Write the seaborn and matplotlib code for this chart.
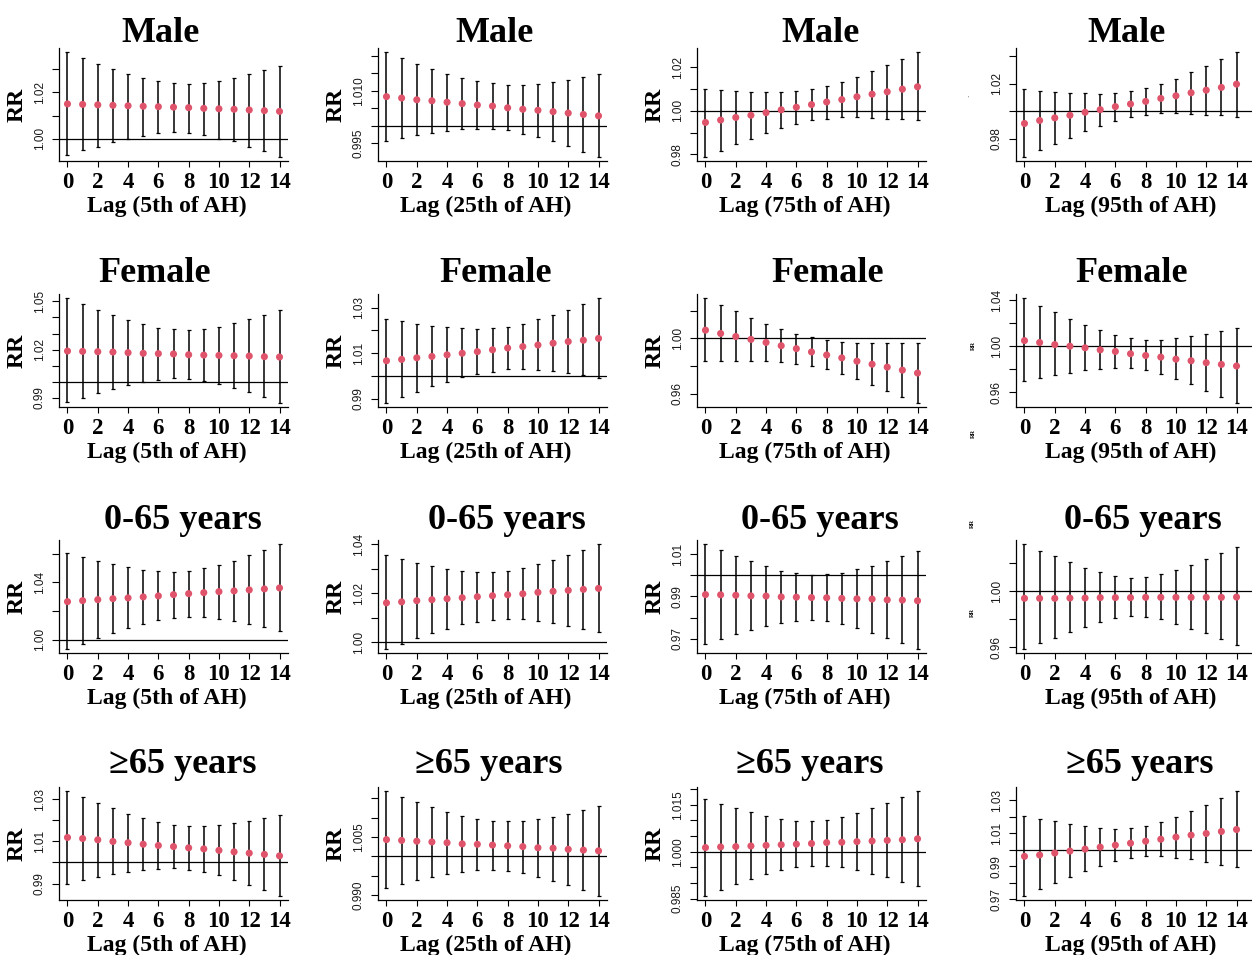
import matplotlib
matplotlib.use('Agg')
import numpy as np
import pandas as pd
import matplotlib.pyplot as plt
import seaborn as sns

# ============================================
# Data
# ============================================
LAGS = list(range(15))
ROW_TITLES = ['Male', 'Female', '0-65 years', '\u226565 years']
COL_XLABELS = ['Lag (5th of AH)', 'Lag (25th of AH)', 'Lag (75th of AH)', 'Lag (95th of AH)']

# Male
MALE_P5_RR = [1.0150, 1.0148, 1.0146, 1.0144, 1.0142, 1.0140, 1.0138, 1.0136, 1.0134, 1.0131, 1.0129, 1.0127, 1.0124, 1.0121, 1.0118]
MALE_P5_HI = [1.0372, 1.0348, 1.0322, 1.0298, 1.0279, 1.0261, 1.0247, 1.0240, 1.0237, 1.0240, 1.0250, 1.0261, 1.0278, 1.0296, 1.0313]
MALE_P5_LO = [0.9929, 0.9952, 0.9967, 0.9987, 1.0000, 1.0011, 1.0024, 1.0030, 1.0026, 1.0016, 1.0001, 0.9989, 0.9967, 0.9946, 0.9923]
MALE_P5_YTICKS = [1.00, 1.01, 1.02, 1.03]
MALE_P5_YLABELS = ['1.00', '', '1.02', '']

MALE_P25_RR = [1.0083, 1.0079, 1.0074, 1.0071, 1.0067, 1.0063, 1.0059, 1.0056, 1.0051, 1.0047, 1.0044, 1.0040, 1.0036, 1.0032, 1.0028]
MALE_P25_HI = [1.0210, 1.0194, 1.0177, 1.0162, 1.0149, 1.0136, 1.0127, 1.0121, 1.0117, 1.0117, 1.0120, 1.0125, 1.0131, 1.0138, 1.0147]
MALE_P25_LO = [0.9956, 0.9964, 0.9973, 0.9980, 0.9986, 0.9990, 0.9991, 0.9991, 0.9987, 0.9977, 0.9967, 0.9956, 0.9941, 0.9926, 0.9911]
MALE_P25_YTICKS = [0.995, 1.000, 1.005, 1.010, 1.015, 1.020]
MALE_P25_YLABELS = ['0.995', '', '', '1.010', '', '']

MALE_P75_RR = [0.9947, 0.9958, 0.9970, 0.9980, 0.9992, 1.0005, 1.0017, 1.0029, 1.0041, 1.0052, 1.0065, 1.0077, 1.0088, 1.0100, 1.0111]
MALE_P75_HI = [1.0102, 1.0097, 1.0092, 1.0088, 1.0086, 1.0086, 1.0092, 1.0102, 1.0115, 1.0133, 1.0156, 1.0182, 1.0211, 1.0239, 1.0270]
MALE_P75_LO = [0.9789, 0.9818, 0.9846, 0.9873, 0.9899, 0.9921, 0.9941, 0.9956, 0.9965, 0.9970, 0.9970, 0.9968, 0.9965, 0.9961, 0.9959]
MALE_P75_YTICKS = [0.98, 0.99, 1.00, 1.01, 1.02]
MALE_P75_YLABELS = ['0.98', '', '1.00', '', '1.02']

MALE_P95_RR = [0.9911, 0.9933, 0.9952, 0.9971, 0.9993, 1.0012, 1.0034, 1.0053, 1.0072, 1.0094, 1.0113, 1.0135, 1.0154, 1.0174, 1.0198]
MALE_P95_HI = [1.0161, 1.0149, 1.0142, 1.0137, 1.0133, 1.0128, 1.0135, 1.0145, 1.0169, 1.0202, 1.0239, 1.0284, 1.0333, 1.0381, 1.0431]
MALE_P95_LO = [0.9668, 0.9718, 0.9764, 0.9807, 0.9853, 0.9892, 0.9930, 0.9957, 0.9976, 0.9986, 0.9990, 0.9983, 0.9976, 0.9971, 0.9959]
MALE_P95_YTICKS = [0.98, 1.00, 1.02, 1.04]
MALE_P95_YLABELS = ['0.98', '', '1.02', '']

# Female
FEMALE_P5_RR = [1.0191, 1.0189, 1.0187, 1.0185, 1.0181, 1.0177, 1.0175, 1.0173, 1.0168, 1.0166, 1.0164, 1.0162, 1.0160, 1.0156, 1.0154]
FEMALE_P5_HI = [1.0520, 1.0481, 1.0448, 1.0413, 1.0386, 1.0357, 1.0337, 1.0327, 1.0322, 1.0329, 1.0343, 1.0363, 1.0388, 1.0415, 1.0446]
FEMALE_P5_LO = [0.9871, 0.9901, 0.9930, 0.9955, 0.9980, 1.0000, 1.0012, 1.0021, 1.0016, 1.0004, 0.9986, 0.9961, 0.9934, 0.9904, 0.9869]
FEMALE_P5_YTICKS = [0.99, 1.00, 1.01, 1.02, 1.03, 1.04, 1.05]
FEMALE_P5_YLABELS = ['0.99', '', '', '1.02', '', '', '1.05']

FEMALE_P25_RR = [1.0067, 1.0073, 1.0080, 1.0086, 1.0093, 1.0100, 1.0107, 1.0115, 1.0123, 1.0129, 1.0136, 1.0144, 1.0151, 1.0157, 1.0165]
FEMALE_P25_HI = [1.0251, 1.0241, 1.0230, 1.0220, 1.0213, 1.0209, 1.0207, 1.0210, 1.0217, 1.0230, 1.0248, 1.0268, 1.0290, 1.0316, 1.0341]
FEMALE_P25_LO = [0.9883, 0.9909, 0.9932, 0.9955, 0.9975, 0.9996, 1.0010, 1.0020, 1.0029, 1.0030, 1.0026, 1.0022, 1.0015, 1.0006, 0.9993]
FEMALE_P25_YTICKS = [0.99, 1.00, 1.01, 1.02, 1.03]
FEMALE_P25_YLABELS = ['0.99', '', '1.01', '', '1.03']

FEMALE_P75_RR = [1.0060, 1.0036, 1.0014, 0.9993, 0.9971, 0.9947, 0.9926, 0.9902, 0.9880, 0.9859, 0.9835, 0.9813, 0.9792, 0.9770, 0.9749]
FEMALE_P75_HI = [1.0292, 1.0242, 1.0196, 1.0151, 1.0105, 1.0067, 1.0034, 1.0007, 0.9988, 0.9974, 0.9967, 0.9964, 0.9964, 0.9964, 0.9967]
FEMALE_P75_LO = [0.9835, 0.9835, 0.9835, 0.9835, 0.9835, 0.9828, 0.9816, 0.9799, 0.9775, 0.9741, 0.9703, 0.9665, 0.9622, 0.9576, 0.9533]
FEMALE_P75_YTICKS = [0.96, 0.98, 1.00, 1.02]
FEMALE_P75_YLABELS = ['0.96', '', '1.00', '']

FEMALE_P95_RR = [1.0049, 1.0032, 1.0014, 1.0000, 0.9986, 0.9968, 0.9954, 0.9934, 0.9919, 0.9905, 0.9887, 0.9873, 0.9856, 0.9841, 0.9827]
FEMALE_P95_HI = [1.0419, 1.0355, 1.0298, 1.0240, 1.0188, 1.0139, 1.0098, 1.0069, 1.0055, 1.0058, 1.0069, 1.0087, 1.0110, 1.0133, 1.0159]
FEMALE_P95_LO = [0.9694, 0.9723, 0.9746, 0.9766, 0.9789, 0.9804, 0.9812, 0.9807, 0.9789, 0.9757, 0.9714, 0.9668, 0.9613, 0.9558, 0.9506]
FEMALE_P95_YTICKS = [0.96, 0.98, 1.00, 1.02, 1.04]
FEMALE_P95_YLABELS = ['0.96', '', '1.00', '', '1.04']

# 0-65 years
YOUNG_P5_RR = [1.0265, 1.0272, 1.0279, 1.0286, 1.0291, 1.0298, 1.0305, 1.0314, 1.0321, 1.0328, 1.0335, 1.0340, 1.0347, 1.0354, 1.0361]
YOUNG_P5_HI = [1.0605, 1.0577, 1.0551, 1.0528, 1.0507, 1.0488, 1.0477, 1.0474, 1.0479, 1.0498, 1.0523, 1.0551, 1.0588, 1.0628, 1.0667]
YOUNG_P5_LO = [0.9935, 0.9972, 1.0012, 1.0049, 1.0081, 1.0112, 1.0137, 1.0151, 1.0156, 1.0156, 1.0147, 1.0133, 1.0112, 1.0086, 1.0063]
YOUNG_P5_YTICKS = [1.00, 1.02, 1.04, 1.06]
YOUNG_P5_YLABELS = ['1.00', '', '1.04', '']

YOUNG_P25_RR = [1.0160, 1.0164, 1.0169, 1.0173, 1.0177, 1.0181, 1.0185, 1.0189, 1.0193, 1.0197, 1.0203, 1.0207, 1.0211, 1.0215, 1.0219]
YOUNG_P25_HI = [1.0353, 1.0338, 1.0323, 1.0311, 1.0300, 1.0291, 1.0287, 1.0287, 1.0291, 1.0301, 1.0318, 1.0334, 1.0355, 1.0376, 1.0399]
YOUNG_P25_LO = [0.9973, 0.9993, 1.0016, 1.0037, 1.0055, 1.0072, 1.0084, 1.0092, 1.0095, 1.0093, 1.0088, 1.0080, 1.0066, 1.0054, 1.0041]
YOUNG_P25_YTICKS = [1.00, 1.01, 1.02, 1.03, 1.04]
YOUNG_P25_YLABELS = ['1.00', '', '1.02', '', '1.04']

YOUNG_P75_RR = [0.9909, 0.9908, 0.9906, 0.9903, 0.9902, 0.9898, 0.9897, 0.9895, 0.9894, 0.9891, 0.9889, 0.9888, 0.9884, 0.9883, 0.9880]
YOUNG_P75_HI = [1.0147, 1.0119, 1.0092, 1.0066, 1.0044, 1.0022, 1.0009, 1.0003, 1.0005, 1.0013, 1.0028, 1.0045, 1.0067, 1.0091, 1.0114]
YOUNG_P75_LO = [0.9677, 0.9700, 0.9722, 0.9742, 0.9759, 0.9775, 0.9786, 0.9789, 0.9783, 0.9769, 0.9750, 0.9730, 0.9706, 0.9680, 0.9653]
YOUNG_P75_YTICKS = [0.97, 0.98, 0.99, 1.00, 1.01]
YOUNG_P75_YLABELS = ['0.97', '', '0.99', '', '1.01']

YOUNG_P95_RR = [0.9948, 0.9948, 0.9948, 0.9950, 0.9950, 0.9953, 0.9953, 0.9953, 0.9955, 0.9955, 0.9955, 0.9955, 0.9955, 0.9955, 0.9957]
YOUNG_P95_HI = [1.0333, 1.0286, 1.0246, 1.0203, 1.0165, 1.0132, 1.0106, 1.0092, 1.0099, 1.0118, 1.0149, 1.0187, 1.0227, 1.0269, 1.0314]
YOUNG_P95_LO = [0.9589, 0.9627, 0.9669, 0.9710, 0.9747, 0.9778, 0.9806, 0.9821, 0.9816, 0.9799, 0.9769, 0.9733, 0.9700, 0.9658, 0.9615]
YOUNG_P95_YTICKS = [0.96, 0.98, 1.00, 1.02]
YOUNG_P95_YLABELS = ['0.96', '', '1.00', '']

# >=65 years
OLD_P5_RR = [1.0118, 1.0113, 1.0107, 1.0099, 1.0093, 1.0086, 1.0080, 1.0075, 1.0069, 1.0064, 1.0057, 1.0050, 1.0044, 1.0038, 1.0031]
OLD_P5_HI = [1.0337, 1.0309, 1.0282, 1.0256, 1.0229, 1.0209, 1.0191, 1.0179, 1.0173, 1.0171, 1.0177, 1.0185, 1.0198, 1.0210, 1.0226]
OLD_P5_LO = [0.9900, 0.9917, 0.9933, 0.9945, 0.9956, 0.9966, 0.9970, 0.9972, 0.9966, 0.9953, 0.9939, 0.9917, 0.9893, 0.9868, 0.9842]
OLD_P5_YTICKS = [0.99, 1.00, 1.01, 1.02, 1.03]
OLD_P5_YLABELS = ['0.99', '', '1.01', '', '1.03']

OLD_P25_RR = [1.0043, 1.0041, 1.0039, 1.0037, 1.0035, 1.0032, 1.0031, 1.0029, 1.0027, 1.0025, 1.0022, 1.0021, 1.0018, 1.0016, 1.0014]
OLD_P25_HI = [1.0168, 1.0154, 1.0139, 1.0127, 1.0114, 1.0103, 1.0096, 1.0091, 1.0090, 1.0091, 1.0096, 1.0102, 1.0109, 1.0120, 1.0129]
OLD_P25_LO = [0.9919, 0.9929, 0.9939, 0.9947, 0.9954, 0.9960, 0.9965, 0.9965, 0.9962, 0.9956, 0.9947, 0.9937, 0.9926, 0.9912, 0.9898]
OLD_P25_YTICKS = [0.990, 0.995, 1.000, 1.005, 1.010, 1.015]
OLD_P25_YLABELS = ['0.990', '', '', '1.005', '', '']

OLD_P75_RR = [1.0013, 1.0015, 1.0016, 1.0018, 1.0020, 1.0022, 1.0024, 1.0026, 1.0029, 1.0030, 1.0032, 1.0034, 1.0036, 1.0038, 1.0041]
OLD_P75_HI = [1.0168, 1.0152, 1.0138, 1.0126, 1.0114, 1.0104, 1.0098, 1.0097, 1.0101, 1.0110, 1.0122, 1.0138, 1.0155, 1.0173, 1.0193]
OLD_P75_LO = [0.9859, 0.9878, 0.9897, 0.9912, 0.9928, 0.9941, 0.9950, 0.9955, 0.9955, 0.9950, 0.9941, 0.9930, 0.9919, 0.9903, 0.9889]
OLD_P75_YTICKS = [0.985, 0.990, 0.995, 1.000, 1.005, 1.010, 1.015, 1.020]
OLD_P75_YLABELS = ['0.985', '', '', '1.000', '', '', '1.015', '']

OLD_P95_RR = [0.9960, 0.9968, 0.9980, 0.9992, 1.0004, 1.0016, 1.0028, 1.0040, 1.0052, 1.0064, 1.0077, 1.0089, 1.0099, 1.0111, 1.0123]
OLD_P95_HI = [1.0203, 1.0189, 1.0173, 1.0157, 1.0143, 1.0133, 1.0129, 1.0133, 1.0147, 1.0171, 1.0201, 1.0237, 1.0274, 1.0312, 1.0356]
OLD_P95_LO = [0.9720, 0.9759, 0.9795, 0.9835, 0.9869, 0.9901, 0.9930, 0.9950, 0.9960, 0.9962, 0.9952, 0.9942, 0.9926, 0.9910, 0.9895]
OLD_P95_YTICKS = [0.97, 0.98, 0.99, 1.00, 1.01, 1.02, 1.03]
OLD_P95_YLABELS = ['0.97', '', '0.99', '', '1.01', '', '1.03']

PANELS = [
    [(MALE_P5_RR, MALE_P5_LO, MALE_P5_HI, MALE_P5_YTICKS, MALE_P5_YLABELS),
     (MALE_P25_RR, MALE_P25_LO, MALE_P25_HI, MALE_P25_YTICKS, MALE_P25_YLABELS),
     (MALE_P75_RR, MALE_P75_LO, MALE_P75_HI, MALE_P75_YTICKS, MALE_P75_YLABELS),
     (MALE_P95_RR, MALE_P95_LO, MALE_P95_HI, MALE_P95_YTICKS, MALE_P95_YLABELS)],
    [(FEMALE_P5_RR, FEMALE_P5_LO, FEMALE_P5_HI, FEMALE_P5_YTICKS, FEMALE_P5_YLABELS),
     (FEMALE_P25_RR, FEMALE_P25_LO, FEMALE_P25_HI, FEMALE_P25_YTICKS, FEMALE_P25_YLABELS),
     (FEMALE_P75_RR, FEMALE_P75_LO, FEMALE_P75_HI, FEMALE_P75_YTICKS, FEMALE_P75_YLABELS),
     (FEMALE_P95_RR, FEMALE_P95_LO, FEMALE_P95_HI, FEMALE_P95_YTICKS, FEMALE_P95_YLABELS)],
    [(YOUNG_P5_RR, YOUNG_P5_LO, YOUNG_P5_HI, YOUNG_P5_YTICKS, YOUNG_P5_YLABELS),
     (YOUNG_P25_RR, YOUNG_P25_LO, YOUNG_P25_HI, YOUNG_P25_YTICKS, YOUNG_P25_YLABELS),
     (YOUNG_P75_RR, YOUNG_P75_LO, YOUNG_P75_HI, YOUNG_P75_YTICKS, YOUNG_P75_YLABELS),
     (YOUNG_P95_RR, YOUNG_P95_LO, YOUNG_P95_HI, YOUNG_P95_YTICKS, YOUNG_P95_YLABELS)],
    [(OLD_P5_RR, OLD_P5_LO, OLD_P5_HI, OLD_P5_YTICKS, OLD_P5_YLABELS),
     (OLD_P25_RR, OLD_P25_LO, OLD_P25_HI, OLD_P25_YTICKS, OLD_P25_YLABELS),
     (OLD_P75_RR, OLD_P75_LO, OLD_P75_HI, OLD_P75_YTICKS, OLD_P75_YLABELS),
     (OLD_P95_RR, OLD_P95_LO, OLD_P95_HI, OLD_P95_YTICKS, OLD_P95_YLABELS)],
]

# ============================================
# Layout (figure pixels)
# ============================================
FIG_W, FIG_H = 1252, 955
ROW_TOP = [48, 294, 540, 787]
COL_LEFT = [59, 378, 697, 1016]
AX_W, AX_H = 229, 113
TITLE_X = [[161, 494, 820, 1126],
           [155, 496, 828, 1132],
           [183, 507, 820, 1143],
           [183, 489, 810, 1140]]
TITLE_BASE = [42, 282, 529, 773]
POINT_COLOR = '#DF536B'
SERIF = ['Liberation Serif', 'DejaVu Serif']

sns.set_style('ticks')
plt.rcParams['font.family'] = SERIF
plt.rcParams['axes.linewidth'] = 0.9
for key in ['text.color', 'axes.labelcolor', 'xtick.color', 'ytick.color', 'axes.edgecolor']:
    plt.rcParams[key] = 'black'

fig = plt.figure(figsize=(FIG_W / 100, FIG_H / 100), dpi=100)


def draw_panel(ax, rr, lo, hi, yticks, ylabels, xlabel, last_col):
    df = pd.DataFrame({'lag': LAGS, 'rr': rr, 'lo': lo, 'hi': hi})
    ax.errorbar(df['lag'], df['rr'], yerr=[df['rr'] - df['lo'], df['hi'] - df['rr']],
                fmt='none', ecolor='black', elinewidth=1.1, capsize=1.3, capthick=0.9, zorder=2)
    ax.axhline(1.0, color='black', lw=0.9, zorder=1)
    sns.scatterplot(data=df, x='lag', y='rr', color=POINT_COLOR, s=26,
                    edgecolor='none', ax=ax, zorder=3, legend=False)
    # R-style 4% axis padding
    ymin, ymax = min(lo), max(hi)
    pad = 0.04 * (ymax - ymin)
    ax.set_ylim(ymin - pad, ymax + pad)
    ax.set_xlim(-0.56, 15.55 if last_col else 14.56)
    ax.set_xticks(range(0, 15, 2))
    ax.set_xticklabels([str(v) for v in range(0, 15, 2)], fontsize=16.5, fontweight='bold')
    ax.set_yticks(yticks)
    ax.set_yticklabels(ylabels)
    ax.tick_params(axis='y', labelsize=8.5, labelrotation=90, length=5, width=0.8,
                   pad=4.5, labelfontfamily='Liberation Sans', labelcolor='#1a1a1a')
    ax.tick_params(axis='x', length=4, width=0.8, pad=4)
    for lab in ax.get_yticklabels():
        lab.set_va('center')
    ax.set_ylabel('')
    ax.set_xlabel(xlabel, fontsize=17, fontweight='bold')
    ax.xaxis.set_label_coords(0.47, -0.40)
    ax.xaxis.label.set_va('center')
    sns.despine(ax=ax)
    ax.patch.set_alpha(0)


for r in range(4):
    for c in range(4):
        rr, lo, hi, yt, yl = PANELS[r][c]
        w = AX_W + (15 if c == 3 else 0)
        ax = fig.add_axes([COL_LEFT[c] / FIG_W, 1 - (ROW_TOP[r] + AX_H) / FIG_H,
                           w / FIG_W, AX_H / FIG_H])
        draw_panel(ax, rr, lo, hi, yt, yl, COL_XLABELS[c], c == 3)
        if c < 3:
            fig.text((COL_LEFT[c] - 42) / FIG_W, 1 - (ROW_TOP[r] + AX_H / 2) / FIG_H, 'RR',
                     rotation=90, ha='center', va='center', fontsize=17, fontweight='bold')
        fig.text(TITLE_X[r][c] / FIG_W, 1 - TITLE_BASE[r] / FIG_H, ROW_TITLES[r],
                 ha='center', va='baseline', fontsize=26, fontweight='bold')

# stray tiny labels present in the original composite
for (px, py) in [(973, 345), (973, 433), (972, 523), (972, 612)]:
    fig.text(px / FIG_W, 1 - py / FIG_H, 'RR', rotation=90, ha='center', va='center',
             fontsize=4.5, fontweight='bold')
fig.text(968 / FIG_W, 1 - 98 / FIG_H, "'", ha='center', va='center', fontsize=5, color='#555555')

fig.savefig('out.png', dpi=100)
